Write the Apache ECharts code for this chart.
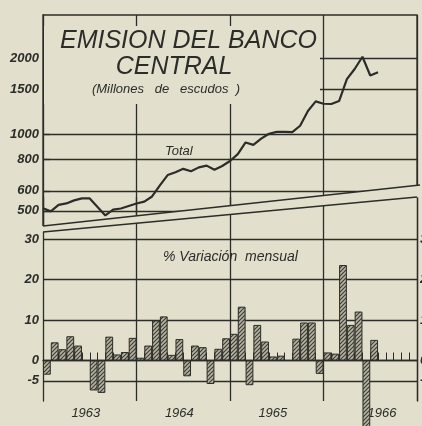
<!DOCTYPE html>
<html><head><meta charset="utf-8">
<script src="https://cdn.jsdelivr.net/npm/echarts@6/dist/echarts.min.js"></script>
<style>html,body{margin:0;padding:0;background:#e2e0cd;} #c{width:422px;height:426px;}</style>
</head><body><div id="c"></div>
<script>
// ---- data ----
const yearLabels = ['1963', '1964', '1965', '1966'];
const monthNames = ['ene', 'feb', 'mar', 'abr', 'may', 'jun', 'jul', 'ago', 'sep', 'oct', 'nov', 'dic'];
// Total emission (millones de escudos), month-end values Dec 1962 .. Jul 1966
const totalValues = [512, 498, 528, 535, 550, 560, 560, 518, 480, 506, 511, 523,
  535, 544, 570, 630, 692, 710, 732, 716, 742, 754, 726, 751,
  786, 837, 930, 910, 963, 1006, 1023, 1024, 1021, 1082, 1237, 1349,
  1321, 1318, 1354, 1650, 1810, 2023, 1706, 1757];
// % variación mensual
const variation1963 = [-3.5, 4.5, 2.8, 6.0, 3.7, null, -7.4, -8.0, 5.9, 1.5, 2.1, 5.6];
const variation1964 = [0.7, 3.7, 9.9, 10.9, 1.4, 5.3, -3.9, 3.7, 3.3, -5.8, 2.9, 5.5];
const variation1965 = [6.6, 13.3, -6.1, 8.8, 4.7, 1.0, 1.2, null, 5.4, 9.4, 9.4, -3.3];
const variation1966 = [2.0, 1.7, 23.6, 8.8, 12.1, -17.0, 5.1];
const totalTicks = [500, 600, 800, 1000, 1500, 2000];
const variationTicks = [-5, 0, 10, 20, 30];
const yearLabelMonth = [5, 5, 5, 7];

// ---- derived ----
const months = [];
yearLabels.forEach(y => monthNames.forEach(m => months.push(m + ' ' + y)));
const monthEnds = ['dic 1962'].concat(months);
const variation = variation1963.concat(variation1964, variation1965, variation1966);
const yearLabelIndex = yearLabelMonth.map((m, i) => i * 12 + m);

const paper = '#e2e0cd';
const ink = '#2c2c28';

function hatchPattern() {
  const s = 4;
  const c = document.createElement('canvas'); c.width = s; c.height = s;
  const g = c.getContext('2d');
  g.fillStyle = '#b6b4a2'; g.fillRect(0, 0, s, s);
  g.strokeStyle = '#3e3e38'; g.lineWidth = 1.2;
  g.beginPath();
  g.moveTo(-1, s + 1); g.lineTo(s + 1, -1);
  g.moveTo(-1, 1); g.lineTo(1, -1);
  g.moveTo(s - 1, s + 1); g.lineTo(s + 1, s - 1);
  g.stroke();
  return c;
}

const tickFont = { fontFamily: 'Liberation Sans', fontStyle: 'italic', fontWeight: 'bold', fontSize: 13, color: ink };
const lineSt = { color: ink, width: 1.3 };

const chart = echarts.init(document.getElementById('c'), null, { renderer: 'canvas', width: 422, height: 426 });
chart.setOption({
  backgroundColor: paper,
  animation: false,
  grid: [
    { left: 43, top: 15, width: 374, height: 217, show: true, borderColor: ink, borderWidth: 1.3, backgroundColor: 'transparent', z: 0, containLabel: false, outerBoundsMode: 'none' },
    { left: 43, top: 197, width: 374, height: 204, show: false, containLabel: false, outerBoundsMode: 'none' }
  ],
  xAxis: [
    { gridIndex: 0, type: 'category', data: monthEnds, boundaryGap: false,
      axisLine: { show: false }, axisTick: { show: false }, axisLabel: { show: false },
      splitLine: { show: true, interval: (i) => i > 0 && i % 12 === 0, lineStyle: lineSt }, z: 0 },
    { gridIndex: 1, type: 'category', data: months, boundaryGap: true,
      axisLine: { show: true, lineStyle: lineSt },
      axisTick: { show: true, inside: true, length: 8, interval: 0, lineStyle: { color: ink, width: 1 } },
      axisLabel: Object.assign({ interval: (i) => yearLabelIndex.indexOf(i) >= 0, formatter: (v) => v.split(' ')[1], margin: 6 }, tickFont, { fontWeight: 'normal' }),
      splitLine: { show: true, interval: (i) => i > 0 && i % 12 === 0, lineStyle: lineSt }, z: 2 }
  ],
  yAxis: [
    { gridIndex: 0, type: 'log', min: 413, max: 2953,
      axisLine: { show: true, lineStyle: lineSt },
      axisTick: { show: true, inside: true, length: 7, customValues: totalTicks, lineStyle: lineSt },
      axisLabel: Object.assign({ customValues: totalTicks, margin: 4, formatter: (v) => String(Math.round(v)) }, tickFont),
      splitLine: { show: true, lineStyle: lineSt }, z: 0 },
    { gridIndex: 1, type: 'value', min: -10, max: 40.4,
      axisLine: { show: true, lineStyle: lineSt },
      axisTick: { show: false, customValues: variationTicks },
      axisLabel: Object.assign({ customValues: variationTicks, margin: 4, formatter: (v) => String(Math.round(v)) }, tickFont),
      splitLine: { show: true, lineStyle: lineSt }, z: 2 },
    { gridIndex: 1, type: 'value', position: 'right', min: -10, max: 40.4,
      axisLine: { show: true, lineStyle: lineSt },
      axisTick: { show: false, customValues: variationTicks },
      axisLabel: Object.assign({ customValues: variationTicks, margin: 3, formatter: (v) => String(Math.round(v)) }, tickFont),
      splitLine: { show: false }, z: 2 }
  ],
  series: [
    { type: 'line', xAxisIndex: 0, yAxisIndex: 0, data: totalValues, symbol: 'none', silent: true,
      lineStyle: { color: ink, width: 2.2 }, z: 4 },
    { type: 'bar', xAxisIndex: 1, yAxisIndex: 1, data: variation, barCategoryGap: '0%', clip: false, silent: true,
      itemStyle: { color: { image: hatchPattern(), repeat: 'repeat' }, borderColor: ink, borderWidth: 1 }, z: 4 }
  ],
  graphic: [
    { type: 'polygon', silent: true, z: 1, shape: { points: [[42, 226], [421, 185], [421, 235], [42, 235]] }, style: { fill: paper } },
    { type: 'rect', silent: true, z: 1, shape: { x: 44, y: 26, width: 276, height: 78 }, style: { fill: paper } },
    { type: 'polygon', silent: true, z: 3, shape: { points: [[42, 226], [421, 185], [421, 197], [42, 232]] }, style: { fill: paper } },
    { type: 'line', silent: true, z: 5, shape: { x1: 43, y1: 226, x2: 420, y2: 185 }, style: { stroke: ink, lineWidth: 1.3 } },
    { type: 'line', silent: true, z: 5, shape: { x1: 43, y1: 232, x2: 417, y2: 197 }, style: { stroke: ink, lineWidth: 1.3 } },
    { type: 'text', silent: true, z: 6, x: 60, y: 41, style: { text: 'EMISION DEL BANCO', fill: ink, font: 'italic 25px "Liberation Sans"', verticalAlign: 'middle', align: 'left' } },
    { type: 'text', silent: true, z: 6, x: 174, y: 67, style: { text: 'CENTRAL', fill: ink, font: 'italic 25px "Liberation Sans"', verticalAlign: 'middle', align: 'center' } },
    { type: 'text', silent: true, z: 6, x: 166, y: 89, style: { text: '(Millones   de   escudos  )', fill: ink, font: 'italic 13px "Liberation Sans"', verticalAlign: 'middle', align: 'center' } },
    { type: 'text', silent: true, z: 6, x: 165, y: 151, style: { text: 'Total', fill: ink, font: 'italic 13px "Liberation Sans"', verticalAlign: 'middle', align: 'left' } },
    { type: 'text', silent: true, z: 6, x: 163, y: 257, style: { text: '% Variación  mensual', fill: ink, font: 'italic 14px "Liberation Sans"', verticalAlign: 'middle', align: 'left' } }
  ]
});
</script>
</body></html>
